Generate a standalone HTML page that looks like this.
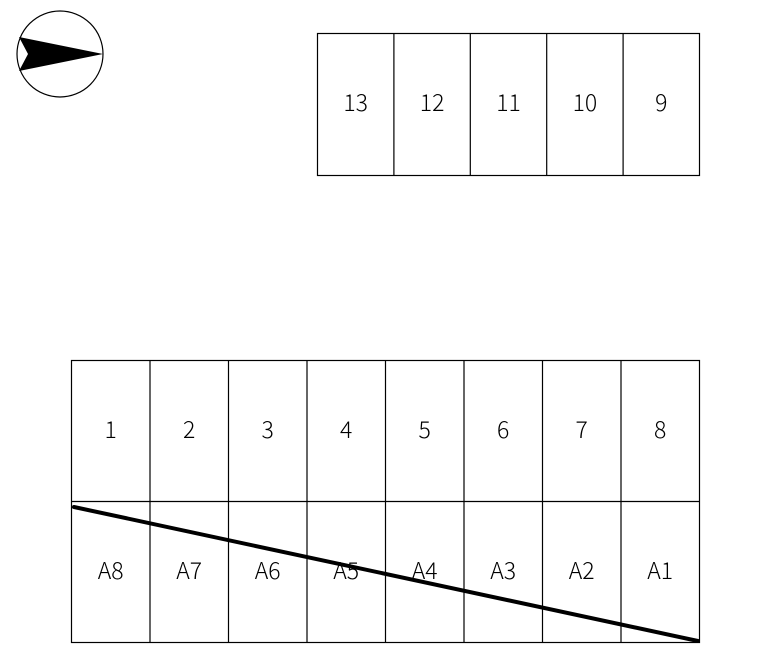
<!DOCTYPE html>
<html><head><style>html,body{margin:0;padding:0;background:#fff}svg{display:block}</style></head>
<body>
<svg width="771" height="670" xmlns="http://www.w3.org/2000/svg" font-family="'Noto Sans CJK JP', 'Liberation Sans', sans-serif" font-weight="300" font-size="23" text-anchor="middle">
<circle cx="60" cy="54" r="43" fill="none" stroke="#000" stroke-width="1.2"/>
<polygon points="19,37 103,54 19,71 28,54" fill="#000"/>
<g fill="none" stroke="#000" stroke-width="1.2">
<rect x="317.5" y="33.5" width="382" height="142"/>
<line x1="393.9" y1="33.5" x2="393.9" y2="175.5"/>
<line x1="470.3" y1="33.5" x2="470.3" y2="175.5"/>
<line x1="546.7" y1="33.5" x2="546.7" y2="175.5"/>
<line x1="623.1" y1="33.5" x2="623.1" y2="175.5"/>
<rect x="71.5" y="360.5" width="628" height="282"/>
<line x1="71.5" y1="501.5" x2="699.5" y2="501.5"/>
<line x1="150" y1="360.5" x2="150" y2="642.5"/>
<line x1="228.5" y1="360.5" x2="228.5" y2="642.5"/>
<line x1="307" y1="360.5" x2="307" y2="642.5"/>
<line x1="385.5" y1="360.5" x2="385.5" y2="642.5"/>
<line x1="464" y1="360.5" x2="464" y2="642.5"/>
<line x1="542.5" y1="360.5" x2="542.5" y2="642.5"/>
<line x1="621" y1="360.5" x2="621" y2="642.5"/>
</g>
<g fill="#000">
<text x="355.7" y="111">13</text><text x="432.1" y="111">12</text><text x="508.5" y="111">11</text><text x="584.9" y="111">10</text><text x="661.3" y="111">9</text>
<text x="110.7" y="438">1</text><text x="189.2" y="438">2</text><text x="267.7" y="438">3</text><text x="346.2" y="438">4</text><text x="424.7" y="438">5</text><text x="503.2" y="438">6</text><text x="581.7" y="438">7</text><text x="660.2" y="438">8</text>
<text x="110.7" y="579">A8</text><text x="189.2" y="579">A7</text><text x="267.7" y="579">A6</text><text x="346.2" y="579">A5</text><text x="424.7" y="579">A4</text><text x="503.2" y="579">A3</text><text x="581.7" y="579">A2</text><text x="660.2" y="579">A1</text>
</g>
<line x1="74" y1="507" x2="698" y2="641" stroke="#000" stroke-width="4" stroke-linecap="round"/>
</svg>
</body></html>
